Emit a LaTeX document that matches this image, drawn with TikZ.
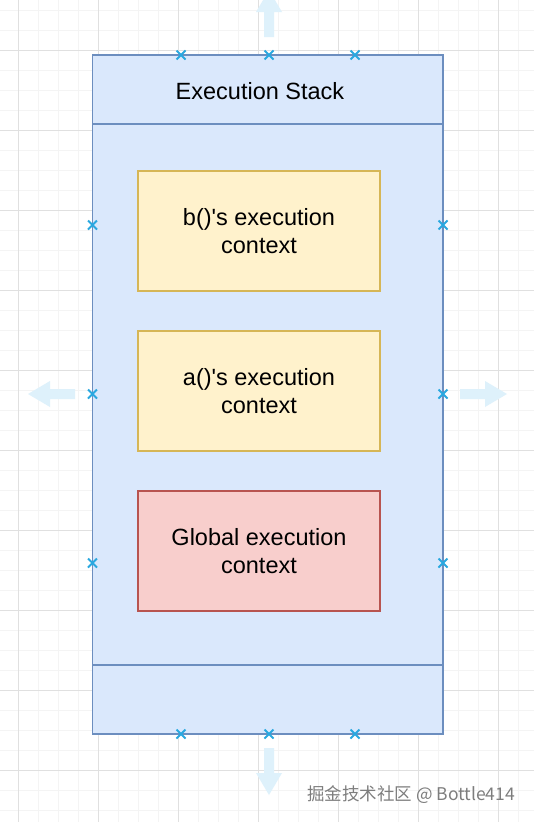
\documentclass[tikz,border=0pt]{standalone}
\usepackage{fontspec}
\setmainfont{Liberation Sans}
\newfontfamily\cjkfont{Noto Sans CJK SC}
\definecolor{gridminor}{RGB}{244,244,244}
\definecolor{gridmajor}{RGB}{224,224,224}
\definecolor{stackfill}{RGB}{218,232,252}
\definecolor{stackline}{RGB}{108,142,191}
\definecolor{ctxfill}{RGB}{255,242,204}
\definecolor{ctxline}{RGB}{214,182,86}
\definecolor{globfill}{RGB}{248,206,204}
\definecolor{globline}{RGB}{184,84,80}
\definecolor{pointcol}{RGB}{41,168,224}
\definecolor{hoverarrow}{RGB}{222,241,251}
\definecolor{markgray}{RGB}{125,125,125}
\tikzset{
  ctxbox/.style={draw=ctxline,fill=ctxfill,line width=1.4pt,minimum width=242pt,
    minimum height=120pt,align=center,font=\fontsize{23.5}{28}\selectfont},
  globbox/.style={ctxbox,draw=globline,fill=globfill},
  ptmark/.style={pointcol,line width=1.8pt}
}
\begin{document}
\begin{tikzpicture}[x=1pt,y=-1pt]
\useasboundingbox (0,0) rectangle (534,822);
\fill[white] (0,0) rectangle (534,822);
% grid
\begin{scope}
\clip (0,0) rectangle (534,822);
\foreach \x in {-1.5,18.5,...,540}{
  \draw[gridminor,line width=0.8pt] (\x,0)--(\x,822);
}
\foreach \y in {-9.5,10.5,...,830}{
  \draw[gridminor,line width=0.8pt] (0,\y)--(534,\y);
}
\foreach \x in {18.5,98.5,...,540}{
  \draw[gridmajor,line width=0.8pt] (\x,0)--(\x,822);
}
\foreach \y in {50.5,130.5,...,830}{
  \draw[gridmajor,line width=0.8pt] (0,\y)--(534,\y);
}
% hover arrows
\foreach \px/\py/\r in {460/394/0,75/394/180,269/37/90,269/748/-90}{
  \fill[hoverarrow,shift={(\px,\py)},rotate=\r]
    (0,-5)--(25,-5)--(25,-13)--(47,0)--(25,13)--(25,5)--(0,5)--cycle;
}
\end{scope}
% stack
\draw[stackline,fill=stackfill,line width=1.6pt] (92.5,55) rectangle (443,734);
\draw[stackline,line width=1.4pt] (92.5,124)--(443,124);
\draw[stackline,line width=1.4pt] (92.5,665)--(443,665);
\node[font=\fontsize{23.5}{28}\selectfont] (title) at (260,91) {Execution Stack};
\node[ctxbox] (bctx) at (259,231) {b()\textquotesingle s execution\\context};
\node[ctxbox] (actx) at (259,391) {a()\textquotesingle s execution\\context};
\node[globbox] (gctx) at (259,551) {Global execution\\context};
% connection points
\foreach \px/\py in {181/55,269/55,355/55,181/734,269/734,355/734,
  92.5/225,92.5/394,92.5/563,443/225,443/394,443/563}{
  \draw[ptmark] (\px-4.5,\py-4.5)--(\px+4.5,\py+4.5) (\px-4.5,\py+4.5)--(\px+4.5,\py-4.5);
}
\node[text=markgray,font=\cjkfont\fontsize{17.5}{21}\selectfont] (mark) at (411,795)
  {掘金技术社区 @ Bottle414};
\end{tikzpicture}
\end{document}
